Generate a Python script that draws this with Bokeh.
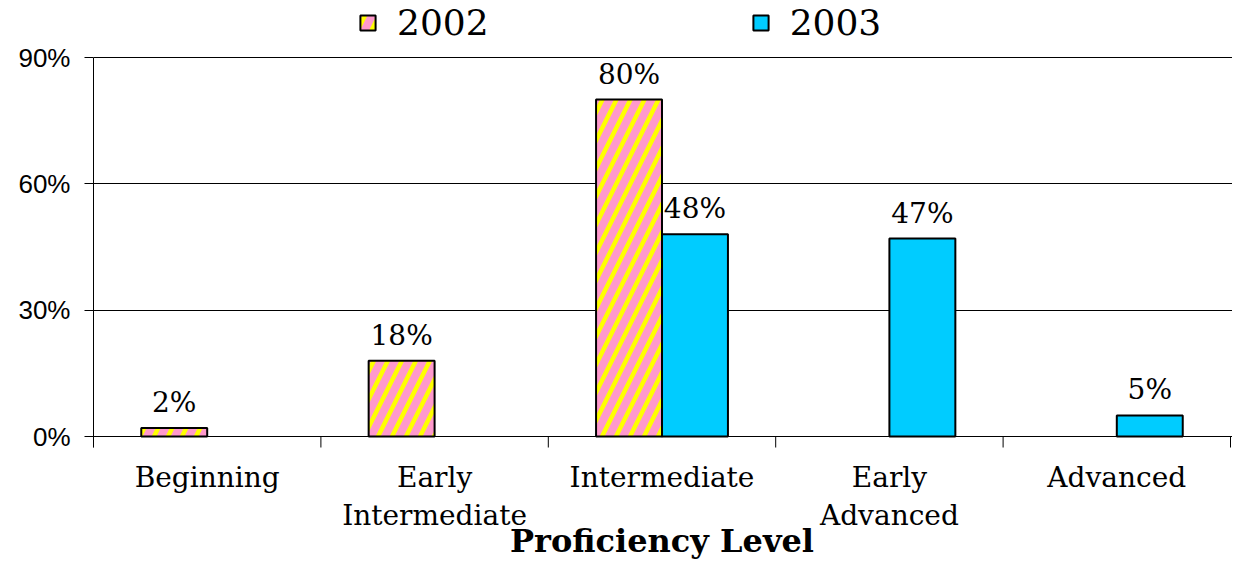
import math
from bokeh.plotting import figure
from bokeh.models import (ColumnDataSource, Range1d, FixedTicker, PrintfTickFormatter,
                          Legend, LegendItem)
from bokeh.core.properties import value
from bokeh.embed import file_html
from bokeh.resources import INLINE

categories = ["Beginning", "Early\nIntermediate", "Intermediate", "Early\nAdvanced", "Advanced"]
y2002 = [2, 18, 80, None, None]
y2003 = [None, None, 48, 47, 5]
yticks = [0, 30, 60, 90]
axis_title = "Proficiency Level"

SERIF = "DejaVu Serif"
SANS = "Liberation Sans"

# layout (pixels on the canvas)
W, H = 1232, 564
LEFT = 93
TOP_PX, ZERO_PX = 57, 436          # where the 90% and 0% lines sit
ppu = (ZERO_PX - TOP_PX) / yticks[-1]
ymax = yticks[-1] + TOP_PX / ppu
ymin = -(H - ZERO_PX) / ppu
n = len(categories)
cat_px = (W - LEFT) / n

p = figure(width=W, height=H, output_backend="svg", toolbar_location=None,
           x_range=Range1d(0, n + 2 / cat_px), y_range=Range1d(ymin, ymax),
           min_border_left=LEFT, min_border_right=0, min_border_top=0, min_border_bottom=0)
p.outline_line_color = None
p.background_fill_color = "white"
p.xaxis.visible = False

bw = 0.29

def build(vals, off):
    xs, tops, labels = [], [], []
    for i, v in enumerate(vals):
        if v is None:
            continue
        xs.append(i + 0.5 + off)
        tops.append(v)
        labels.append(f"{v}%")
    return ColumnDataSource(dict(x=xs, top=tops, label=labels))

s02 = build(y2002, -bw / 2)
s03 = build(y2003, bw / 2)

r02 = p.vbar(x="x", top="top", bottom=0, width=bw, source=s02,
             fill_color="#FF99CC", line_color="black", line_width=2,
             hatch_pattern="right_diagonal_line", hatch_color="#FFFF00",
             hatch_weight=4.5, hatch_scale=28)
r03 = p.vbar(x="x", top="top", bottom=0, width=bw, source=s03,
             fill_color="#00CCFF", line_color="black", line_width=2)

for s in (s02, s03):
    p.text(x="x", y="top", text="label", source=s, text_align="center",
           text_baseline="bottom", y_offset=-9, text_font=value(SERIF),
           text_font_size="28px", text_color="black")

# y axis
p.yaxis.ticker = FixedTicker(ticks=yticks)
p.yaxis.bounds = (-11 / ppu, yticks[-1])
p.yaxis.formatter = PrintfTickFormatter(format="%d%%")
p.yaxis.major_label_text_font = SANS
p.yaxis.major_label_text_font_size = "26px"
p.yaxis.major_label_text_color = "black"
p.yaxis.major_tick_in = 0
p.yaxis.major_tick_out = 9
p.yaxis.minor_tick_line_color = None
p.yaxis.axis_line_color = "black"
p.yaxis.major_tick_line_color = "black"
p.yaxis.major_label_standoff = 14

p.ygrid.ticker = FixedTicker(ticks=yticks)
p.ygrid.grid_line_color = "black"
p.ygrid.grid_line_width = 1
p.xgrid.grid_line_color = None

# category axis (drawn inside the extended frame)
centers = [i + 0.5 for i in range(n)]
bounds = list(range(n + 1))
p.ray(x=bounds, y=[0] * len(bounds), length=11, length_units="screen",
      angle=-math.pi / 2, line_color="black", line_width=1)
p.text(x=centers, y=[0] * n, text=categories, text_align="center", text_baseline="top",
       y_offset=24, text_font=value(SERIF), text_font_size="28px",
       text_line_height=1.17, text_color="black")
p.text(x=[n / 2], y=[0], text=[axis_title], text_align="center", text_baseline="middle",
       y_offset=104, text_font=value(SERIF), text_font_style="bold",
       text_font_size="32px", text_color="black")

legend = Legend(items=[LegendItem(label="2002", renderers=[r02]),
                       LegendItem(label="2003", renderers=[r03])],
                orientation="horizontal", location=(265, H - 43))
legend.label_text_font = SERIF
legend.label_text_font_size = "36px"
legend.label_text_color = "black"
legend.glyph_width = 19
legend.glyph_height = 19
legend.label_standoff = 20
legend.spacing = 262
legend.padding = 0
legend.margin = 0
legend.border_line_color = None
legend.background_fill_alpha = 0
p.add_layout(legend)

open("out.html", "w").write(file_html(p, INLINE))
